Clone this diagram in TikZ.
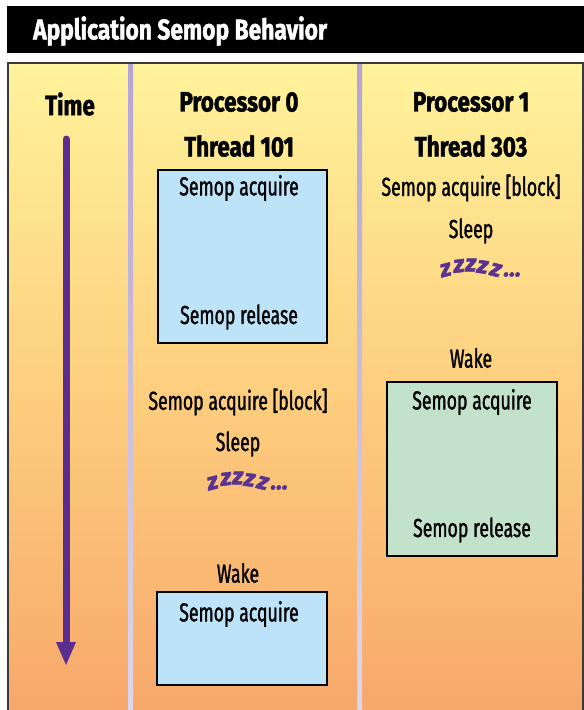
\documentclass[tikz,border=0pt]{standalone}
\usepackage{fontspec}
\usepackage{graphicx}
\setmainfont{Fira Sans}[FakeStretch=0.68, FakeBold=1.2]
\newfontfamily\headfont{Fira Sans}[FakeStretch=0.8, FakeBold=1.5]
\newfontfamily\zfont{Fira Sans}[FakeBold=2]
\usetikzlibrary{arrows.meta}
\definecolor{paneltop}{HTML}{FFF39B}
\definecolor{panelmid}{HTML}{FDCF7E}
\definecolor{panelbot}{HTML}{F7A86B}
\definecolor{divtop}{HTML}{B4A5D3}
\definecolor{divbot}{HTML}{DED6EC}
\definecolor{timeline}{HTML}{5B2D8E}
\definecolor{zcol}{HTML}{5A3290}
\definecolor{blueblk}{HTML}{BCE3F7}
\definecolor{greenblk}{HTML}{C2E2CC}
\definecolor{frame}{HTML}{3A3A3A}
% one tilted, raised letter of the snoring word
\newcommand{\snorez}[2]{\raisebox{#2pt}{\rotatebox[origin=c]{#1}{z}}\kern0.3pt}
\newcommand{\snoreword}{\snorez{14}{-3}\snorez{7}{1}\snorez{0}{2}\snorez{-7}{0}\snorez{-14}{-3}\kern1pt\raisebox{-3pt}{...}}
\tikzset{
  lbl/.style={inner sep=0pt, font=\fontsize{26}{28}\selectfont},
  head/.style={inner sep=0pt, font=\headfont\fontsize{28}{30}\selectfont\bfseries},
  block/.style={draw=black, line width=1.2pt, inner sep=0pt},
  zz/.style={inner sep=0pt, text=zcol, font=\zfont\fontsize{24}{24}\selectfont\bfseries\itshape},
}
\begin{document}
\begin{tikzpicture}[x=1pt,y=-1pt]
\useasboundingbox (0,0) rectangle (584,710);
% title bar
\fill[black] (7,6) rectangle (584,53);
\node[anchor=west, text=white, inner sep=0pt, font=\headfont\fontsize{28.5}{31}\selectfont\bfseries] (title) at (33,31) {Application Semop Behavior};
% panel background
\shade[top color=paneltop, bottom color=panelbot, middle color=panelmid] (8,63) rectangle (583,710);
\draw[frame, line width=1.5pt] (8,710) -- (8,63) -- (583,63) -- (583,710);
% column dividers
\shade[top color=divtop, bottom color=divbot] (128,64) rectangle (133,710);
\shade[top color=divtop, bottom color=divbot] (357,64) rectangle (362,710);
% time axis
\node[head] (time) at (70,104) {Time};
\coordinate (tstart) at (66,139);
\coordinate (tend) at (66,666);
\draw[timeline, line width=7pt, line cap=round, -{Triangle[width=18pt,length=24pt]}] (tstart) -- (tend);
% processor 0
\node[head] (p0) at (239,102) {Processor 0};
\node[head] (t101) at (239,146) {Thread 101};
\node[block, fill=blueblk, minimum width=169pt, minimum height=173pt] (b1) at (242.5,256.5) {};
\node[lbl] (b1acq) at (239,188) {Semop acquire};
\node[lbl] (b1rel) at (239,317) {Semop release};
\node[lbl] (p0block) at (238,402) {Semop acquire [block]};
\node[lbl] (p0sleep) at (238,444) {Sleep};
\node[zz] (p0snore) at (247,481) {\snoreword};
\node[lbl] (p0wake) at (238,573) {Wake};
\node[block, fill=blueblk, minimum width=170pt, minimum height=93pt] (b3) at (242,638.5) {};
\node[lbl] (b3acq) at (239,614) {Semop acquire};
% processor 1
\node[head] (p1) at (471,102) {Processor 1};
\node[head] (t303) at (471,146) {Thread 303};
\node[lbl] (p1block) at (471,188) {Semop acquire [block]};
\node[lbl] (p1sleep) at (471,231) {Sleep};
\node[zz] (p1snore) at (480,268) {\snoreword};
\node[lbl] (p1wake) at (471,358) {Wake};
\node[block, fill=greenblk, minimum width=170pt, minimum height=174pt] (b2) at (472,469) {};
\node[lbl] (b2acq) at (472,402) {Semop acquire};
\node[lbl] (b2rel) at (472,530) {Semop release};
\end{tikzpicture}
\end{document}
